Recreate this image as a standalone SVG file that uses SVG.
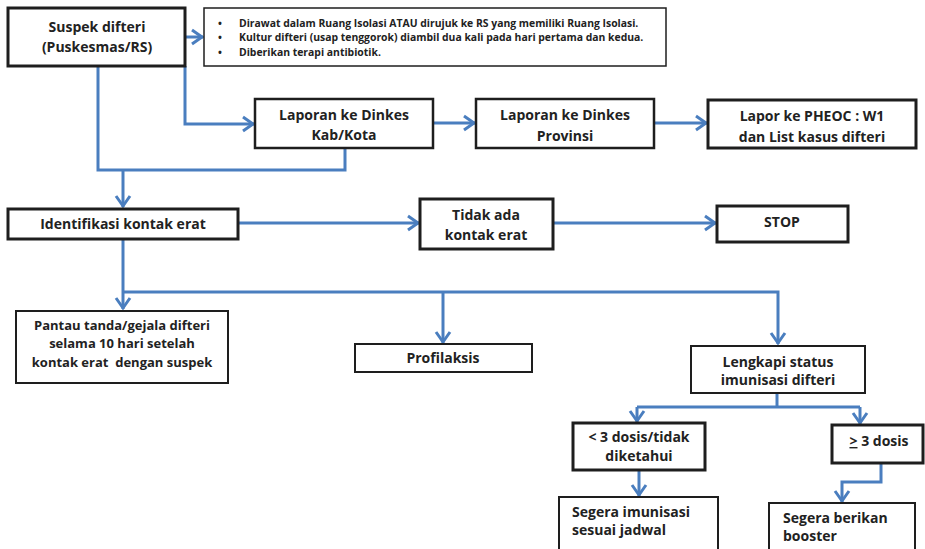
<svg xmlns="http://www.w3.org/2000/svg" width="925" height="549" viewBox="0 0 925 549">
  <style>
    .box { fill: #ffffff; stroke: #1e1e1e; stroke-width: 2.5; }
    .thick { stroke-width: 3; }
    .thin { stroke-width: 2; }
    .note { stroke-width: 1.5; }
    .t { font-family: "Open Sans", "Liberation Sans", sans-serif; font-weight: 700; font-size: 14px; fill: #222222; text-anchor: middle; }
    .tl { text-anchor: start; }
    .mid { font-size: 13px; }
    .small { font-size: 10.4px; text-anchor: start; }
    .link { fill: none; stroke: #4a7ebf; stroke-width: 3; stroke-linejoin: miter; }
  </style>
  <defs>
    <marker id="arrow" viewBox="0 0 16 18" markerWidth="16" markerHeight="18" refX="14" refY="9" orient="auto" markerUnits="userSpaceOnUse">
      <path d="M3,2 L13,9 L3,16" fill="none" stroke="#4a7ebf" stroke-width="3"/>
    </marker>
  </defs>
  <rect width="925" height="549" fill="#ffffff"/>

  <!-- connectors -->
  <g id="connectors" class="link">
    <path d="M185,37 H203" marker-end="url(#arrow)"/>
    <path d="M185,66 V124 H254" marker-end="url(#arrow)"/>
    <path d="M98,66 V170 H345 V148"/>
    <path d="M123,170 V207" marker-end="url(#arrow)"/>
    <path d="M433,123 H475" marker-end="url(#arrow)"/>
    <path d="M654,123 H707" marker-end="url(#arrow)"/>
    <path d="M238,223 H419" marker-end="url(#arrow)"/>
    <path d="M553,223 H716" marker-end="url(#arrow)"/>
    <path d="M123,239 V309" marker-end="url(#arrow)"/>
    <path d="M123,292 H778 V344" marker-end="url(#arrow)"/>
    <path d="M443,292 V343" marker-end="url(#arrow)"/>
    <path d="M777,393 V407"/>
    <path d="M637,407 H860"/>
    <path d="M637,407 V422" marker-end="url(#arrow)"/>
    <path d="M860,407 V424" marker-end="url(#arrow)"/>
    <path d="M639,470 V496" marker-end="url(#arrow)"/>
    <path d="M881,463 V482 H842 V502" marker-end="url(#arrow)"/>
  </g>

  <g id="suspek">
    <rect class="box thick" x="8" y="8" width="177" height="58"/>
    <text class="t" x="97" y="32">Suspek difteri</text>
    <text class="t" x="97" y="52">(Puskesmas/RS)</text>
  </g>

  <g id="tindakan">
    <rect class="box note" x="204" y="8" width="462" height="58"/>
    <text class="t small" x="218" y="27">•</text>
    <text class="t small" x="239" y="27">Dirawat dalam Ruang Isolasi ATAU dirujuk ke RS yang memiliki Ruang Isolasi.</text>
    <text class="t small" x="218" y="41">•</text>
    <text class="t small" x="239" y="41">Kultur difteri (usap tenggorok) diambil dua kali pada hari pertama dan kedua.</text>
    <text class="t small" x="218" y="56">•</text>
    <text class="t small" x="239" y="56">Diberikan terapi antibiotik.</text>
  </g>

  <g id="dinkes-kab">
    <rect class="box" x="255" y="99" width="178" height="49"/>
    <text class="t" x="344" y="120">Laporan ke Dinkes</text>
    <text class="t" x="344" y="140">Kab/Kota</text>
  </g>

  <g id="dinkes-prov">
    <rect class="box" x="476" y="99" width="178" height="49"/>
    <text class="t" x="565" y="120">Laporan ke Dinkes</text>
    <text class="t" x="565" y="141">Provinsi</text>
  </g>

  <g id="pheoc">
    <rect class="box thick" x="708" y="100" width="208" height="48"/>
    <text class="t" x="812" y="121">Lapor ke PHEOC : W1</text>
    <text class="t" x="812" y="142">dan List kasus difteri</text>
  </g>

  <g id="identifikasi">
    <rect class="box thick" x="8" y="209" width="230" height="30"/>
    <text class="t" x="123" y="229">Identifikasi kontak erat</text>
  </g>

  <g id="tidak-ada">
    <rect class="box thick" x="420" y="199" width="133" height="50"/>
    <text class="t" x="486" y="220">Tidak ada</text>
    <text class="t" x="486" y="240">kontak erat</text>
  </g>

  <g id="stop">
    <rect class="box thick" x="717" y="206" width="131" height="36"/>
    <text class="t" x="782" y="227">STOP</text>
  </g>

  <g id="pantau">
    <rect class="box thin" x="16" y="311" width="212" height="72"/>
    <text class="t mid" x="122" y="330">Pantau tanda/gejala difteri</text>
    <text class="t mid" x="122" y="348">selama 10 hari setelah</text>
    <text class="t mid" x="122" y="367" xml:space="preserve">kontak erat  dengan suspek</text>
  </g>

  <g id="profilaksis">
    <rect class="box thin" x="355" y="344" width="177" height="28"/>
    <text class="t" x="443" y="363">Profilaksis</text>
  </g>

  <g id="status-imunisasi">
    <rect class="box thin" x="691" y="346" width="174" height="47"/>
    <text class="t" x="778" y="367">Lengkapi status</text>
    <text class="t" x="778" y="385">imunisasi difteri</text>
  </g>

  <g id="kurang-3-dosis">
    <rect class="box thick" x="573" y="423" width="132" height="47"/>
    <text class="t" x="639" y="442">&lt; 3 dosis/tidak</text>
    <text class="t" x="639" y="461">diketahui</text>
  </g>

  <g id="lebih-3-dosis">
    <rect class="box thick" x="832" y="425" width="91" height="38"/>
    <text class="t" x="879" y="446"><tspan text-decoration="underline">&gt;</tspan> 3 dosis</text>
  </g>

  <g id="imunisasi-jadwal">
    <rect class="box thin" x="559" y="497" width="159" height="62"/>
    <text class="t tl" x="572" y="517">Segera imunisasi</text>
    <text class="t tl" x="572" y="535">sesuai jadwal</text>
  </g>

  <g id="booster">
    <rect class="box thin" x="769" y="503" width="146" height="62"/>
    <text class="t tl" x="783" y="523">Segera berikan</text>
    <text class="t tl" x="783" y="541">booster</text>
  </g>
</svg>
